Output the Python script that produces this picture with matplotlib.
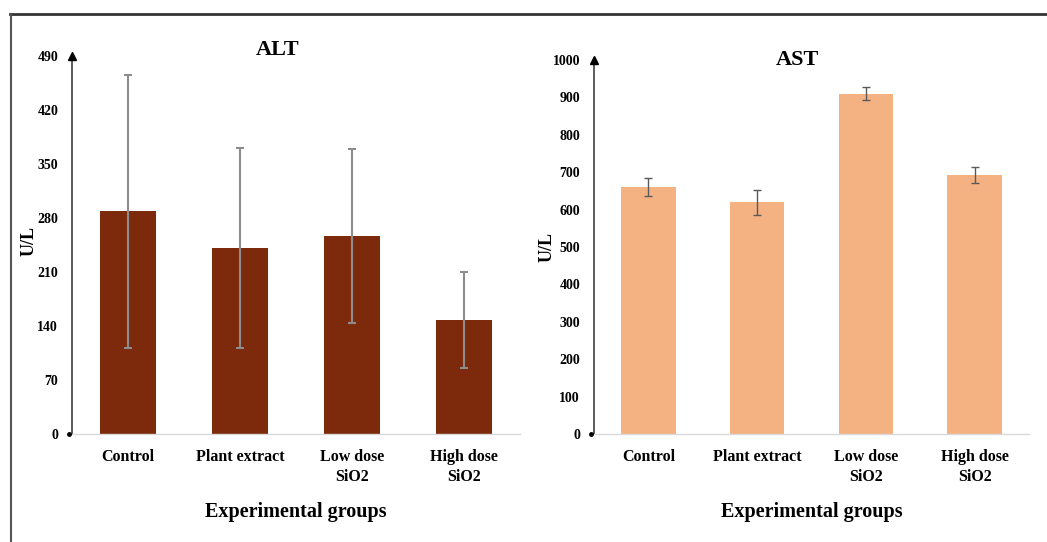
import numpy as np
import matplotlib.pyplot as plt
from matplotlib.lines import Line2D

groups = ["Control", "Plant extract", "Low dose\nSiO2", "High dose\nSiO2"]

alt_mean = [289, 241, 257, 148]
alt_sd = [177, 130, 113, 62]

ast_mean = [661, 619, 910, 692]
ast_sd = [24, 34, 18, 22]

alt_ticks = [0, 70, 140, 210, 280, 350, 420, 490]
ast_ticks = [0, 100, 200, 300, 400, 500, 600, 700, 800, 900, 1000]

plt.rcParams["font.family"] = ["Liberation Serif", "DejaVu Serif"]
plt.rcParams["font.weight"] = "bold"


def bar_panel(ax, means, sds, ticks, title, title_xy, color, err_color, err_lw):
    x = np.arange(len(groups))
    ax.bar(x, means, width=0.5, color=color, zorder=2)
    ax.errorbar(x, means, yerr=sds, fmt="none", ecolor=err_color,
                elinewidth=err_lw, capsize=3, capthick=err_lw, zorder=3)
    ax.set_xlim(-0.5, len(groups) - 0.5)
    ax.set_ylim(0, ticks[-1])
    ax.set_yticks(ticks)
    ax.set_yticklabels([str(t) for t in ticks], fontsize=10, fontweight="bold")
    ax.set_xticks(x)
    ax.set_xticklabels(groups, fontsize=11.5, fontweight="bold", linespacing=1.3)
    ax.tick_params(axis="both", length=0)
    ax.tick_params(axis="y", pad=10)
    ax.tick_params(axis="x", pad=11)

    for side in ["top", "right"]:
        ax.spines[side].set_visible(False)
    ax.spines["bottom"].set_color("#d9d9d9")
    ax.spines["bottom"].set_linewidth(1.0)
    ax.spines["left"].set_color("#404040")
    ax.spines["left"].set_linewidth(1.2)

    # arrow head on top of the value axis and a dot at the origin
    ax.plot(0, 1.0, marker="^", color="black", markersize=6,
            transform=ax.transAxes, clip_on=False, zorder=5)
    ax.plot(-0.006, 0, marker="o", color="black", markersize=2.5,
            transform=ax.transAxes, clip_on=False, zorder=5)

    fig.text(title_xy[0], title_xy[1], title, fontsize=16, fontweight="bold",
             ha="center", va="center")
    ax.set_ylabel("U/L", fontsize=13, fontweight="bold")
    ax.set_xlabel("Experimental groups", fontsize=14.5, fontweight="bold",
                  labelpad=12)


fig = plt.figure(figsize=(10.47, 5.42), dpi=100)

ax_alt = fig.add_axes([0.0688, 0.1993, 0.4279, 0.6974])
bar_panel(ax_alt, alt_mean, alt_sd, alt_ticks, "ALT", (0.2655, 0.9077),
          "#7d290b", "#8c8c8c", 1.5)
ax_alt.yaxis.set_label_coords(-0.078, 0.51)

ax_ast = fig.add_axes([0.5673, 0.1993, 0.4155, 0.6900])
bar_panel(ax_ast, ast_mean, ast_sd, ast_ticks, "AST", (0.7612, 0.8893),
          "#f4b283", "#5a5a5a", 1.0)
ax_ast.yaxis.set_label_coords(-0.088, 0.50)

# outer frame lines along the top and the left
fig.add_artist(Line2D([10 / 1047, 1.0], [1 - 13.5 / 542, 1 - 13.5 / 542],
                      color="#333333", linewidth=2.0, transform=fig.transFigure))
fig.add_artist(Line2D([10.5 / 1047, 10.5 / 1047], [0.0, 1 - 13.5 / 542],
                      color="#555555", linewidth=1.5, transform=fig.transFigure))

fig.savefig("out.png", dpi=100)
